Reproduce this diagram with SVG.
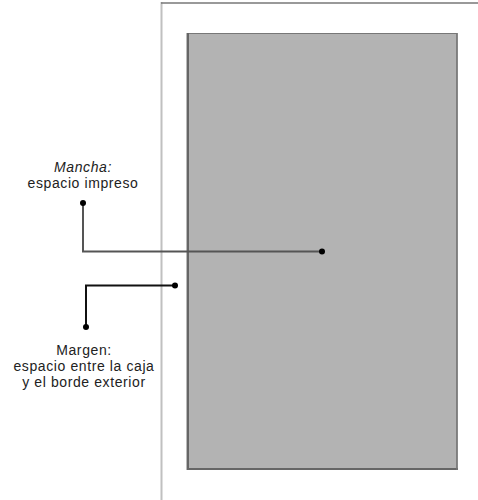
<svg xmlns="http://www.w3.org/2000/svg" width="478" height="500" viewBox="0 0 478 500">
<style>
.lbl{font-family:"Liberation Sans",Arial,sans-serif;font-size:14px;fill:#222;text-anchor:middle;letter-spacing:0.6px}
.dot{fill:#000}
</style>
<rect width="478" height="500" fill="#fff"/>
<g id="page">
<line x1="161.5" y1="2" x2="161.5" y2="500" stroke="#c0c0c0" stroke-width="2"/>
<line x1="161" y1="3" x2="478" y2="3" stroke="#777" stroke-width="1.5"/>
</g>
<g id="caja">
<rect x="187" y="33.5" width="270" height="436" fill="#b3b3b3" stroke="#777" stroke-width="1"/>
<line x1="188" y1="33" x2="188" y2="470" stroke="#666" stroke-width="2"/>
<line x1="187" y1="469" x2="458" y2="469" stroke="#666" stroke-width="2"/>
<line x1="457" y1="33" x2="457" y2="470" stroke="#777" stroke-width="1.5"/>
</g>
<g id="connectors" fill="none" stroke-width="2">
<polyline points="83,203 83,251.5 322,251.5" stroke="#555"/>
<polyline points="175,285.5 86,285.5 86,327" stroke="#111"/>
</g>
<g id="mancha">
<circle class="dot" cx="83" cy="203" r="3"/>
<circle class="dot" cx="322" cy="251.5" r="3"/>
<text class="lbl" x="83" y="172" font-style="italic">Mancha:</text>
<text class="lbl" x="83" y="188">espacio impreso</text>
</g>
<g id="margen">
<circle class="dot" cx="175" cy="285.5" r="3"/>
<circle class="dot" cx="86" cy="327" r="3"/>
<text class="lbl" x="84" y="355">Margen:</text>
<text class="lbl" x="84" y="371">espacio entre la caja</text>
<text class="lbl" x="84" y="387">y el borde exterior</text>
</g>
</svg>
